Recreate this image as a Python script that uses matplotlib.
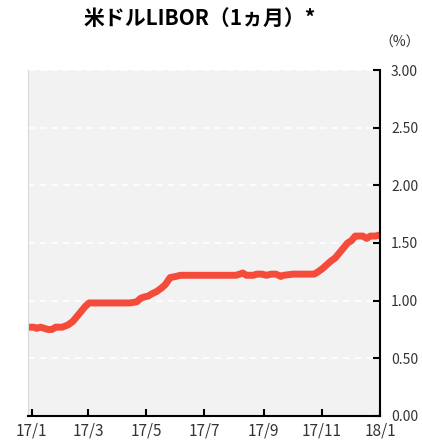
import matplotlib.pyplot as plt
import pandas as pd

plt.rcParams['font.family'] = ['Noto Sans CJK JP', 'DejaVu Sans']
plt.rcParams['axes.unicode_minus'] = False

# 米ドルLIBOR(1ヵ月) 読み取り値
dates = ['2016-12-28', '2017-01-03', '2017-01-06', '2017-01-10', '2017-01-14',
         '2017-01-18', '2017-01-22', '2017-01-26', '2017-02-02', '2017-02-08',
         '2017-02-13', '2017-02-17', '2017-02-22', '2017-02-26', '2017-03-02',
         '2017-03-15', '2017-03-31', '2017-04-14', '2017-04-21', '2017-04-25',
         '2017-04-28', '2017-05-03', '2017-05-07', '2017-05-12', '2017-05-17',
         '2017-05-21', '2017-05-26', '2017-06-01', '2017-06-06', '2017-06-20',
         '2017-07-05', '2017-07-20', '2017-08-03', '2017-08-07', '2017-08-10',
         '2017-08-14', '2017-08-21', '2017-08-25', '2017-08-30', '2017-09-04',
         '2017-09-09', '2017-09-14', '2017-09-19', '2017-09-22', '2017-10-02',
         '2017-10-16', '2017-10-24', '2017-10-28', '2017-11-02', '2017-11-06',
         '2017-11-10', '2017-11-15', '2017-11-20', '2017-11-24', '2017-11-28',
         '2017-12-02', '2017-12-06', '2017-12-10', '2017-12-14', '2017-12-18',
         '2017-12-22', '2017-12-27', '2018-01-01']
libor = [0.77, 0.77, 0.76, 0.77, 0.76,
         0.75, 0.75, 0.77, 0.77, 0.79,
         0.82, 0.86, 0.91, 0.95, 0.98,
         0.98, 0.98, 0.98, 0.99, 1.02,
         1.03, 1.04, 1.06, 1.08, 1.11,
         1.14, 1.20, 1.21, 1.22, 1.22,
         1.22, 1.22, 1.22, 1.23, 1.24,
         1.22, 1.22, 1.23, 1.23, 1.22,
         1.23, 1.23, 1.21, 1.22, 1.23,
         1.23, 1.23, 1.25, 1.28, 1.31,
         1.34, 1.37, 1.42, 1.46, 1.50,
         1.52, 1.56, 1.56, 1.56, 1.54,
         1.56, 1.56, 1.57]

yticks = [0.0, 0.5, 1.0, 1.5, 2.0, 2.5, 3.0]
xtick_dates = ['2017-01-01', '2017-03-01', '2017-05-01', '2017-07-01',
               '2017-09-01', '2017-11-01', '2018-01-01']
xtick_labels = ['17/1', '17/3', '17/5', '17/7', '17/9', '17/11', '18/1']

x = pd.to_datetime(dates)

fig = plt.figure(figsize=(4.22, 4.47), dpi=100)
ax = fig.add_axes([0.0664, 0.0694, 0.8341, 0.774])
ax.set_facecolor('#f2f2f2')

ax.plot(x, libor, color='#f44b3a', linewidth=5, solid_capstyle='butt',
        solid_joinstyle='round')

ax.set_xlim(pd.Timestamp('2016-12-28'), pd.Timestamp('2018-01-01'))
ax.set_ylim(0, 3.0)
ax.set_yticks(yticks)
ax.set_yticklabels([f'{v:.2f}' for v in yticks])
ax.set_xticks(pd.to_datetime(xtick_dates))
ax.set_xticklabels(xtick_labels)

ax.yaxis.tick_right()
ax.tick_params(axis='y', direction='in', length=5, width=1.5, pad=8,
               labelsize=10, colors='black', labelcolor='#333333')
ax.tick_params(axis='x', direction='in', length=5, width=1.5, pad=5,
               labelsize=11, labelcolor='#333333')

for y in yticks[1:]:
    ax.axhline(y, color='white', linestyle=(0, (4, 3)), linewidth=1.2, zorder=1)

ax.spines['top'].set_visible(False)
ax.spines['left'].set_color('#d9d9d9')
ax.spines['left'].set_linewidth(0.8)
ax.spines['right'].set_linewidth(1.5)
ax.spines['bottom'].set_linewidth(1.5)

fig.text(0.474, 0.958, '米ドルLIBOR（1ヵ月）*', ha='center', va='center',
         fontsize=15, fontweight='bold')
fig.text(0.995, 0.905, '（%）', ha='right', va='center', fontsize=10,
         color='#333333')

fig.savefig('out.png', dpi=100)
